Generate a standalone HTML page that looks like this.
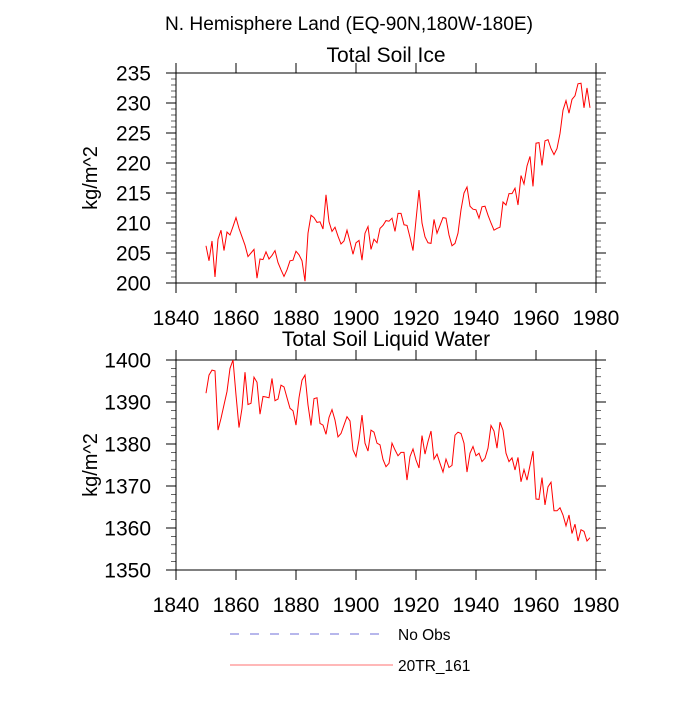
<!DOCTYPE html>
<html><head><meta charset="utf-8"><style>
body{margin:0;background:#fff;}
svg text{font-family:"Liberation Sans",sans-serif;fill:#000;}
</style></head><body>
<svg id="chart" width="700" height="700" viewBox="0 0 700 700" xmlns="http://www.w3.org/2000/svg">
<text x="349" y="30" font-size="19" text-anchor="middle" textLength="368" lengthAdjust="spacingAndGlyphs">N. Hemisphere Land (EQ-90N,180W-180E)</text>
<g id="top"></g>
<g id="bot"></g>
<g>
<line x1="230" y1="634" x2="384" y2="634" stroke="#6f6fd8" stroke-width="1" stroke-dasharray="9,11"/>
<text x="398" y="640" font-size="15.5">No Obs</text>
<line x1="230" y1="665" x2="393" y2="665" stroke="#ff7070" stroke-width="1"/>
<text x="398" y="671" font-size="15.5">20TR_161</text>
</g>
</svg>
<script>
const years0 = 1850;
const iceValues = [206.2,203.7,207,201,207.3,208.8,205.4,208.5,208,209.4,210.9,209.1,207.7,206.3,204.4,205,205.6,200.8,204,203.9,205.2,204,204.6,205.4,203.4,202.2,201.1,202.2,203.7,203.8,205.3,204.7,203.7,200.3,208.3,211.3,210.9,210.1,210.2,209,214.7,210.2,208.6,209.3,207.8,206.5,207,208.8,206.9,204.8,206.7,207.1,203.8,208.3,209.4,205.6,207.3,206.7,209.1,209.6,210.4,210.3,210.8,208.6,211.6,211.6,209.7,209.6,207.6,205.4,210.5,215.5,210,207.7,206.7,206.6,210.6,208.3,209.6,210.9,210.8,208,206.2,206.6,208.3,212.2,215,216,212.8,212.3,212.2,210.8,212.7,212.8,211.3,210,208.8,209.1,209.3,213.5,213,214.9,214.9,215.8,213,217.9,216.5,219.5,221.1,216.1,223.3,223.4,219.6,223.7,223.9,222.4,221.4,222.4,224.9,228.8,230.4,228.3,230.6,231.2,233.2,233.3,229.2,232.5,229.2];
const liqValues = [1392.1,1396.4,1397.6,1397.4,1383.3,1386.1,1389.3,1392.5,1398,1400,1391.7,1383.9,1388.5,1397.1,1389.4,1389.7,1395.9,1394.7,1387.1,1391.3,1391.2,1391,1395.6,1390.3,1390.7,1394,1393.6,1391,1388.5,1387.9,1384.5,1391,1395.2,1396.4,1389.3,1384.4,1390.8,1391,1384.9,1384.5,1382.3,1386.3,1388.2,1385.7,1381.7,1382.5,1384.5,1386.5,1385.5,1378.6,1377,1381,1386.9,1380.2,1378.3,1383.3,1382.8,1380.2,1379.8,1376.3,1374.6,1375.4,1380.2,1378.6,1377.2,1378,1378,1371.4,1377,1378.8,1376.2,1374.3,1382,1377.6,1380.6,1383.1,1376.4,1377.6,1375.4,1373.3,1376.4,1374.4,1374.9,1382.1,1382.8,1382.5,1380.2,1373.3,1377.8,1379.4,1377.2,1377.8,1375.8,1376.6,1379,1384.4,1383.1,1379,1385.2,1383.3,1377.8,1375.8,1376.7,1373.8,1376.8,1371,1373.9,1371.4,1374.9,1378.3,1366.9,1366.8,1372,1365.5,1369.8,1370.9,1364.1,1364.1,1364.8,1363.1,1360.5,1363.1,1358.7,1360.9,1356.9,1359.6,1359.2,1356.9,1357.7];
const xTickLabels = ["1840","1860","1880","1900","1920","1940","1960","1980"];
const iceTicks = [200,205,210,215,220,225,230,235];
const liqTicks = [1350,1360,1370,1380,1390,1400];

const NS="http://www.w3.org/2000/svg";
function mk(parent,tag,attrs){const e=document.createElementNS(NS,tag);for(const k in attrs)e.setAttribute(k,attrs[k]);parent.appendChild(e);return e;}
const X0=176,X1=596,XMIN=1840,XMAX=1980;
function xs(v){return X0+(v-XMIN)/(XMAX-XMIN)*(X1-X0);}

function panel(g,top,bottom,ymin,ymax,ticks,minorStep,vals,title,prefix,titleDy){
  const ys=v=>bottom-(v-ymin)/(ymax-ymin)*(bottom-top);
  const t=mk(g,'text',{x:386,y:top-titleDy,'font-size':21,'text-anchor':'middle'});
  
  
  t.textContent=title;
  const f=mk(g,'rect',{x:X0,y:top,width:X1-X0,height:bottom-top,fill:'none',stroke:'#000','stroke-width':1});
  
  
  for(let v=ymin;v<=ymax+1e-9;v+=minorStep){
    const y=ys(v);
    mk(g,'line',{x1:X0-5,y1:y,x2:X0,y2:y,stroke:'#000','stroke-width':0.6});
    mk(g,'line',{x1:X1,y1:y,x2:X1+5,y2:y,stroke:'#000','stroke-width':0.6});
  }
  ticks.forEach(v=>{
    const y=ys(v);
    mk(g,'line',{x1:X0-10,y1:y,x2:X0,y2:y,stroke:'#000','stroke-width':1});
    mk(g,'line',{x1:X1,y1:y,x2:X1+10,y2:y,stroke:'#000','stroke-width':1});
    const l=mk(g,'text',{x:151,y:y+7.5,'font-size':21,'text-anchor':'end'});
    
    
    l.textContent=String(v);
  });
  xTickLabels.forEach(s=>{
    const x=xs(+s);
    mk(g,'line',{x1:x,y1:top-10,x2:x,y2:top,stroke:'#000','stroke-width':1});
    mk(g,'line',{x1:x,y1:bottom,x2:x,y2:bottom+10,stroke:'#000','stroke-width':1});
    const l=mk(g,'text',{x:x,y:bottom+42,'font-size':21,'text-anchor':'middle'});
    
    
    l.textContent=s;
  });
  const yl=mk(g,'text',{x:0,y:0,'font-size':20,'text-anchor':'middle',transform:`translate(97,${(top+bottom)/2}) rotate(-90)`});
  
  
  yl.textContent='kg/m^2';
  const pts=vals.map((v,i)=>xs(years0+i).toFixed(1)+','+ys(v).toFixed(1)).join(' ');
  const p=mk(g,'polyline',{points:pts,fill:'none',stroke:'#ff0000','stroke-width':1});
  
  
}
panel(document.getElementById('top'),73,283,200,235,iceTicks,1,iceValues,'Total Soil Ice','ice',11);
panel(document.getElementById('bot'),360,570,1350,1400,liqTicks,2,liqValues,'Total Soil Liquid Water','liquid',14);
</script>
</body></html>
